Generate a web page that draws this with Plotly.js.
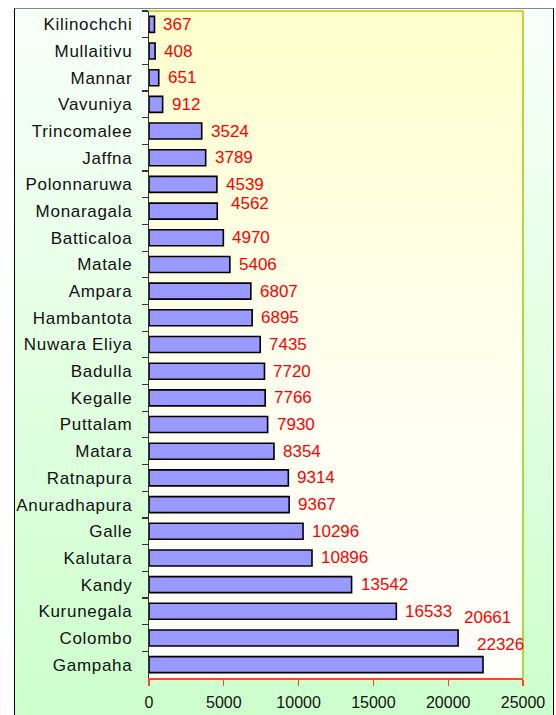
<!DOCTYPE html>
<html>
<head>
<meta charset="utf-8">
<script src="https://cdn.plot.ly/plotly-3.0.1.min.js"></script>
<style>
  html, body { margin: 0; padding: 0; background: #ffffff; }
  #wrap { position: relative; width: 556px; height: 715px; overflow: hidden; }
  #frame { position: absolute; left: 14px; top: 8px; width: 538px; height: 720px;
           border-left: 1.5px solid #000; border-right: 1.5px solid #000; border-top: 1.5px solid #888;
           background: linear-gradient(to bottom, #f8fffa 0%, #e4ffe4 45%, #ccffcc 100%); }
  #pbg { position: absolute; left: 149px; top: 11px; width: 374px; height: 667px;
         background: linear-gradient(to bottom, #ffffcc 0%, #fffff0 55%, #fffffa 100%); }
  #chart { position: absolute; left: 0; top: 0; width: 556px; height: 715px; }
  #chart .ytick text { letter-spacing: 0.7px; }
</style>
</head>
<body>
<div id="wrap">
  <div id="frame"></div>
  <div id="pbg"></div>
  <div id="chart"></div>
</div>
<script>
// Districts, listed top to bottom as in the chart
var districts = ["Kilinochchi", "Mullaitivu", "Mannar", "Vavuniya", "Trincomalee", "Jaffna",
  "Polonnaruwa", "Monaragala", "Batticaloa", "Matale", "Ampara", "Hambantota", "Nuwara Eliya",
  "Badulla", "Kegalle", "Puttalam", "Matara", "Ratnapura", "Anuradhapura", "Galle", "Kalutara",
  "Kandy", "Kurunegala", "Colombo", "Gampaha"];
var values = [367, 408, 651, 912, 3524, 3789, 4539, 4562, 4970, 5406, 6807, 6895, 7435,
  7720, 7766, 7930, 8354, 9314, 9367, 10296, 10896, 13542, 16533, 20661, 22326];
var xTicks = [0, 5000, 10000, 15000, 20000, 25000];

// label placement tweaks (pixels) for a few labels that sit off-centre in the reference
var labelDx = districts.map(function (d) {
  return d === "Monaragala" ? 12 : d === "Colombo" ? 4 : d === "Gampaha" ? -8 : 7;
});
var labelDy = districts.map(function (d) {
  return d === "Monaragala" ? 8 : d === "Colombo" ? 20 : d === "Gampaha" ? 20 : 0;
});

var trace = {
  type: "bar",
  orientation: "h",
  x: values,
  y: districts,
  marker: { color: "#9999ff", line: { color: "#000000", width: 1.6 } },
  hoverinfo: "x+y"
};

var annotations = districts.map(function (d, i) {
  return {
    x: values[i], y: d, xref: "x", yref: "y",
    text: String(values[i]),
    showarrow: false, xanchor: "left", yanchor: "middle",
    xshift: labelDx[i], yshift: labelDy[i],
    font: { family: "Liberation Sans, Arial, sans-serif", size: 17, color: "#ff0000" }
  };
});

var layout = {
  width: 556, height: 715,
  margin: { l: 149, r: 33, t: 11, b: 37, pad: 0 },
  paper_bgcolor: "rgba(0,0,0,0)",
  plot_bgcolor: "rgba(0,0,0,0)",
  showlegend: false,
  bargap: 0.4,
  font: { family: "Liberation Sans, Arial, sans-serif", color: "#111111" },
  xaxis: {
    range: [0, 25000], autorange: false, tickvals: xTicks, ticktext: xTicks.map(String),
    showgrid: false, zeroline: false,
    showline: true, linecolor: "#ff4422", linewidth: 1.5,
    ticks: "outside", ticklen: 6, tickcolor: "#ff4422", tickwidth: 1.2,
    ticklabelstandoff: 3,
    tickfont: { size: 16, color: "#111111" }
  },
  yaxis: {
    type: "category", autorange: false, range: [districts.length - 0.5, -0.5],
    showgrid: false, zeroline: false,
    showline: true, linecolor: "#333333", linewidth: 1.2,
    ticks: "outside", tickson: "boundaries", ticklen: 6, tickcolor: "#333333", tickwidth: 1.2,
    ticklabelstandoff: 12,
    tickfont: { size: 17, color: "#111111" }
  },
  shapes: [
    { type: "line", xref: "paper", yref: "paper", x0: 0, x1: 1, y0: 1, y1: 1,
      line: { color: "#c4dc3c", width: 2 } },
    { type: "line", xref: "paper", yref: "paper", x0: 1, x1: 1, y0: 0, y1: 1,
      line: { color: "#99cc00", width: 1.5 } }
  ],
  annotations: annotations
};

Plotly.newPlot("chart", [trace], layout, { displayModeBar: false, staticPlot: true });
</script>
</body>
</html>
